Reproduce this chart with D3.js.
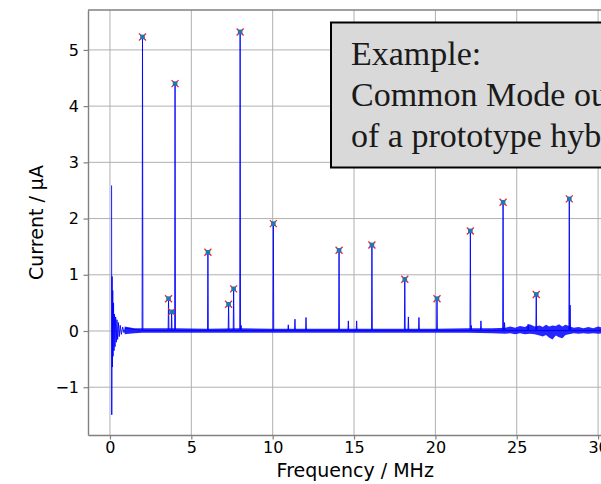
<!DOCTYPE html>
<html>
<head>
<meta charset="utf-8">
<script src="https://cdn.jsdelivr.net/npm/d3@7"></script>
<style>
  body { margin: 0; background: #fff; }
  svg { display: block; }
</style>
</head>
<body>
<svg id="chart" width="601" height="484"></svg>
<script>
// Axis ticks
const xTicks = [0, 5, 10, 15, 20, 25, 30];
const yTicks = [-1, 0, 1, 2, 3, 4, 5];

// Marked harmonic peaks (MHz, µA)
const peakFreq = [2.0, 3.6, 3.79, 4.0, 6.02, 7.29, 7.6, 8.0, 10.04, 14.08, 16.1, 18.12, 20.1, 22.15, 24.16, 26.2, 28.23];
const peakAmp  = [5.23, 0.575, 0.34, 4.40, 1.40, 0.475, 0.75, 5.32, 1.91, 1.435, 1.53, 0.92, 0.575, 1.78, 2.29, 0.65, 2.35];

// Small unmarked spurs and peak shoulders (MHz, µA)
const minorFreq = [8.06, 10.96, 11.37, 12.05, 14.65, 15.16, 18.34, 18.99, 22.2, 22.8, 24.25, 25.7, 28.28];
const minorAmp  = [0.10, 0.11, 0.21, 0.24, 0.18, 0.18, 0.25, 0.24, 0.10, 0.18, 0.15, 0.12, 0.46];

// Ringing at the low-frequency end (MHz, µA)
const ringFreq = [0.10, 0.11, 0.13, 0.15, 0.17, 0.19, 0.22, 0.25, 0.28, 0.31, 0.35, 0.39, 0.43, 0.47, 0.52, 0.57, 0.63, 0.70, 0.78, 0.86, 0.95];
const ringAmp  = [2.59, -1.49, 0.97, -0.64, 0.72, -0.45, 0.50, -0.35, 0.30, -0.28, 0.25, -0.20, 0.20, -0.15, 0.15, -0.10, 0.10, -0.06, 0.07, -0.03, 0.05];

// Envelope of the noise floor (MHz, µA)
const bandFreq = [0.9, 1.5, 2, 4, 6, 8, 10, 12, 14, 16, 18, 20, 22, 23.5, 24.3, 24.6, 24.9, 25.2, 25.5, 25.8, 26.1, 26.4, 26.6, 26.8, 27.0, 27.2, 27.4, 27.6, 27.8, 28.0, 28.5, 28.8, 29.1, 29.4, 29.7, 30.0, 30.3, 30.6];
const bandHi   = [0.08, 0.05, 0.05, 0.05, 0.04, 0.05, 0.04, 0.04, 0.04, 0.04, 0.04, 0.04, 0.05, 0.05, 0.06, 0.08, 0.06, 0.09, 0.07, 0.12, 0.08, 0.10, 0.07, 0.11, 0.08, 0.10, 0.09, 0.12, 0.08, 0.11, 0.06, 0.07, 0.05, 0.07, 0.05, 0.08, 0.06, 0.05];
const bandLo   = [-0.06, -0.04, -0.03, -0.03, -0.03, -0.03, -0.03, -0.03, -0.03, -0.03, -0.03, -0.03, -0.03, -0.04, -0.05, -0.04, -0.06, -0.04, -0.06, -0.05, -0.06, -0.08, -0.10, -0.07, -0.12, -0.15, -0.08, -0.11, -0.13, -0.07, -0.04, -0.05, -0.04, -0.05, -0.04, -0.05, -0.04, -0.04];

const noteLines = ["Example:", "Common Mode output", "of a prototype hybrid"];
const baseLevel = 0.01;

const svg = d3.select("#chart");
svg.append("rect").attr("width", 601).attr("height", 484).attr("fill", "#fff");

const plotLeft = 88, plotTop = 10, plotBottom = 435, plotRight = 622.5;
const x = d3.scaleLinear().domain([-1.35, 31.5]).range([plotLeft, plotRight]);
const y = d3.scaleLinear().domain([-1.85, 5.71]).range([plotBottom, plotTop]);

// Grid
const grid = svg.append("g").attr("stroke", "#b0b0b0").attr("stroke-width", 1);
grid.selectAll("line.gx").data(xTicks).join("line").attr("class", "gx")
  .attr("x1", d => x(d)).attr("x2", d => x(d)).attr("y1", plotTop).attr("y2", plotBottom);
grid.selectAll("line.gy").data(yTicks).join("line").attr("class", "gy")
  .attr("y1", d => y(d)).attr("y2", d => y(d)).attr("x1", plotLeft).attr("x2", plotRight);

// Noise floor band
const band = bandFreq.map((f, i) => ({ f, lo: bandLo[i], hi: bandHi[i] }));
svg.append("path").datum(band)
  .attr("fill", "#0000ff").attr("fill-opacity", 0.85)
  .attr("d", d3.area().x(d => x(d.f)).y0(d => y(d.lo)).y1(d => y(d.hi)));

// Spectrum trace: ringing, then narrow spikes on the baseline
const spikes = peakFreq.map((f, i) => ({ f, a: peakAmp[i] }))
  .concat(minorFreq.map((f, i) => ({ f, a: minorAmp[i] })))
  .sort((a, b) => a.f - b.f);
const trace = ringFreq.map((f, i) => [f, ringAmp[i]]);
spikes.forEach(s => {
  trace.push([s.f - 0.025, baseLevel], [s.f, s.a], [s.f + 0.025, baseLevel]);
});
trace.push([30.6, baseLevel]);
svg.append("path").datum(trace)
  .attr("fill", "none").attr("stroke", "#0000ff").attr("stroke-width", 0.9)
  .attr("d", d3.line().x(d => x(d[0])).y(d => y(d[1])));

// Peak markers
const marks = svg.append("g");
peakFreq.forEach((f, i) => {
  const cx = x(f), cy = y(peakAmp[i]);
  marks.append("path")
    .attr("d", `M${cx - 3.5},${cy - 3.5}L${cx + 3.5},${cy + 3.5}M${cx - 3.5},${cy + 3.5}L${cx + 3.5},${cy - 3.5}`)
    .attr("stroke", "#ff2020").attr("stroke-width", 1.3).attr("fill", "none");
  marks.append("rect")
    .attr("x", cx - 2.3).attr("y", cy - 2.3).attr("width", 4.6).attr("height", 4.6)
    .attr("fill", "#1f77b4");
});

// Axes
const fmt = d3.format("d");
const xAxis = svg.append("g").attr("transform", `translate(0,${plotBottom})`)
  .call(d3.axisBottom(x).tickValues(xTicks).tickFormat(fmt).tickSize(4.5).tickSizeOuter(0).tickPadding(2.5));
const yAxis = svg.append("g").attr("transform", `translate(${plotLeft},0)`)
  .call(d3.axisLeft(y).tickValues(yTicks).tickFormat(fmt).tickSize(4.5).tickSizeOuter(0).tickPadding(4.5));
[xAxis, yAxis].forEach(g => {
  g.select(".domain").attr("stroke", "#808080").attr("stroke-width", 1.4);
  g.selectAll(".tick line").attr("stroke", "#808080").attr("stroke-width", 1.2);
  g.selectAll(".tick text").attr("fill", "#000")
    .style("font-family", "'DejaVu Sans'").style("font-size", "16px");
});
svg.append("line").attr("x1", plotLeft).attr("x2", plotRight).attr("y1", plotTop).attr("y2", plotTop)
  .attr("stroke", "#808080").attr("stroke-width", 1.4);

// Axis titles
svg.append("text").attr("x", (plotLeft + plotRight) / 2).attr("y", 477)
  .attr("text-anchor", "middle").attr("fill", "#000")
  .style("font-family", "'DejaVu Sans'").style("font-size", "19px")
  .text("Frequency / MHz");
svg.append("text").attr("transform", `translate(43,${(plotTop + plotBottom) / 2}) rotate(-90)`)
  .attr("text-anchor", "middle").attr("fill", "#000")
  .style("font-family", "'DejaVu Sans'").style("font-size", "19px")
  .text("Current / μA");

// Annotation box
svg.append("rect").attr("x", 331).attr("y", 22.5).attr("width", 400).attr("height", 145)
  .attr("fill", "#d9d9d9").attr("stroke", "#000").attr("stroke-width", 2);
svg.append("g").selectAll("text").data(noteLines).join("text")
  .attr("x", 351).attr("y", (d, i) => 65 + i * 41)
  .attr("fill", "#1a1a1a")
  .style("font-family", "'Liberation Serif', serif").style("font-size", "34px")
  .text(d => d);
</script>
</body>
</html>
